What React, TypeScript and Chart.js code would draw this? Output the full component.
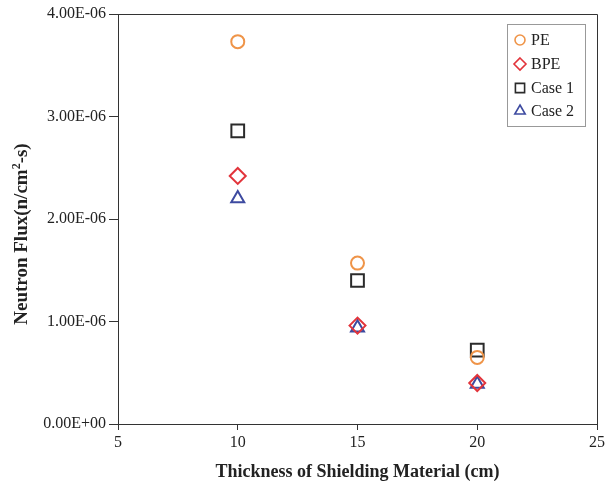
import React, { useEffect, useRef } from "react";
import { Chart, registerables } from "chart.js";

Chart.register(...registerables);

const thickness = [10, 15, 20];
const peFlux = [3.73e-6, 1.57e-6, 0.65e-6];
const bpeFlux = [2.42e-6, 0.96e-6, 0.40e-6];
const case1Flux = [2.86e-6, 1.40e-6, 0.72e-6];
const case2Flux = [2.2e-6, 0.94e-6, 0.39e-6];

const seriesNames = ["PE", "BPE", "Case 1", "Case 2"];
const seriesColors = ["#ef9448", "#e2343b", "#2b2b2b", "#3d4aa0"];
const seriesStyles = ["circle", "rectRot", "rect", "triangle"];
const seriesRadius = [6.5, 8, 9, 7.5];

const xTitle = "Thickness of Shielding Material (cm)";
const yTitleMain = "Neutron Flux(n/cm";
const yTitleSup = "2";
const yTitleEnd = "-s)";

const SERIF = "'Liberation Serif', 'DejaVu Serif', serif";

function fmtSci(v: number): string {
  if (v === 0) return "0.00E+00";
  const s = v.toExponential(2);
  const [m, e] = s.split("e");
  const n = parseInt(e, 10);
  const sign = n < 0 ? "-" : "+";
  const abs = Math.abs(n);
  return `${m}E${sign}${abs < 10 ? "0" + abs : abs}`;
}

function drawMarker(ctx: CanvasRenderingContext2D, style: string, x: number, y: number, r: number) {
  ctx.beginPath();
  if (style === "circle") {
    ctx.arc(x, y, r, 0, Math.PI * 2);
  } else if (style === "rectRot") {
    ctx.moveTo(x, y - r);
    ctx.lineTo(x + r, y);
    ctx.lineTo(x, y + r);
    ctx.lineTo(x - r, y);
    ctx.closePath();
  } else if (style === "rect") {
    const s = r * Math.SQRT1_2;
    ctx.rect(x - s, y - s, 2 * s, 2 * s);
  } else {
    const a = (2 * Math.PI) / 3;
    ctx.moveTo(x, y - r);
    ctx.lineTo(x + Math.sin(a) * r, y - Math.cos(a) * r);
    ctx.lineTo(x + Math.sin(2 * a) * r, y - Math.cos(2 * a) * r);
    ctx.closePath();
  }
  ctx.stroke();
}

const framePlugin = {
  id: "frameAndLegend",
  afterDraw(chart: any) {
    const { ctx, chartArea } = chart;
    const { left, right, top, bottom } = chartArea;
    ctx.save();
    ctx.strokeStyle = "#333";
    ctx.lineWidth = 1;
    ctx.beginPath();
    ctx.moveTo(left, top + 0.5);
    ctx.lineTo(right + 0.5, top + 0.5);
    ctx.lineTo(right + 0.5, bottom);
    ctx.stroke();

    // y-axis title with superscript
    ctx.save();
    ctx.translate(27, 234);
    ctx.rotate(-Math.PI / 2);
    const big = `bold 19px ${SERIF}`;
    const small = `bold 12px ${SERIF}`;
    ctx.font = big;
    const w1 = ctx.measureText(yTitleMain).width;
    const w3 = ctx.measureText(yTitleEnd).width;
    ctx.font = small;
    const w2 = ctx.measureText(yTitleSup).width;
    const total = w1 + w2 + w3;
    let xx = -total / 2;
    ctx.fillStyle = "#222";
    ctx.textBaseline = "alphabetic";
    ctx.textAlign = "left";
    ctx.font = big;
    ctx.fillText(yTitleMain, xx, 0);
    xx += w1;
    ctx.font = small;
    ctx.fillText(yTitleSup, xx, -7);
    xx += w2;
    ctx.font = big;
    ctx.fillText(yTitleEnd, xx, 0);
    ctx.restore();

    // legend box
    const bx = 507.5, by = 24.5, bw = 78, bh = 102;
    ctx.strokeStyle = "#999";
    ctx.lineWidth = 1;
    ctx.strokeRect(bx, by, bw, bh);
    ctx.font = `16px ${SERIF}`;
    ctx.textBaseline = "middle";
    ctx.textAlign = "left";
    const ys = [40, 64, 88, 111];
    seriesNames.forEach((name, i) => {
      ctx.strokeStyle = seriesColors[i];
      ctx.lineWidth = 1.6;
      drawMarker(ctx, seriesStyles[i], 520, ys[i], [5, 6, 6.5, 6][i]);
      ctx.fillStyle = "#222";
      ctx.fillText(name, 531, ys[i] + 1);
    });
    ctx.restore();
  },
};

export default function App() {
  const ref = useRef<HTMLCanvasElement>(null);
  useEffect(() => {
    document.body.style.margin = "0";
    const allData = [peFlux, bpeFlux, case1Flux, case2Flux];
    const chart = new Chart(ref.current!, {
      type: "scatter",
      data: {
        datasets: seriesNames.map((name, i) => ({
          label: name,
          data: thickness.map((x, j) => ({ x, y: allData[i][j] })),
          pointStyle: seriesStyles[i] as any,
          pointRadius: seriesRadius[i],
          pointBorderWidth: 2,
          borderColor: seriesColors[i],
          backgroundColor: "rgba(0,0,0,0)",
          showLine: false,
        })),
      },
      options: {
        responsive: false,
        animation: false,
        layout: { padding: { top: 14, right: 16, left: 0, bottom: 0 } },
        plugins: { legend: { display: false }, tooltip: { enabled: false } },
        scales: {
          x: {
            type: "linear",
            min: 5,
            max: 25,
            afterFit: (s: any) => { s.height = 63; },
            ticks: { stepSize: 5, color: "#222", font: { family: SERIF, size: 16 }, padding: 3 },
            grid: { drawOnChartArea: false, tickLength: 6, color: "#333" },
            border: { color: "#333" },
            title: {
              display: true,
              text: xTitle,
              color: "#222",
              font: { family: SERIF, size: 18, weight: "bold" },
              padding: { top: 6 },
            },
          },
          y: {
            min: 0,
            max: 4e-6,
            afterFit: (s: any) => { s.width = 118; },
            ticks: {
              stepSize: 1e-6,
              color: "#222",
              font: { family: SERIF, size: 16 },
              padding: 3,
              callback: (v: any) => fmtSci(Number(v)),
            },
            grid: { drawOnChartArea: false, tickLength: 9, color: "#333" },
            border: { color: "#333" },
          },
        },
      },
      plugins: [framePlugin],
    });
    return () => chart.destroy();
  }, []);
  return <canvas ref={ref} width={613} height={487} />;
}
